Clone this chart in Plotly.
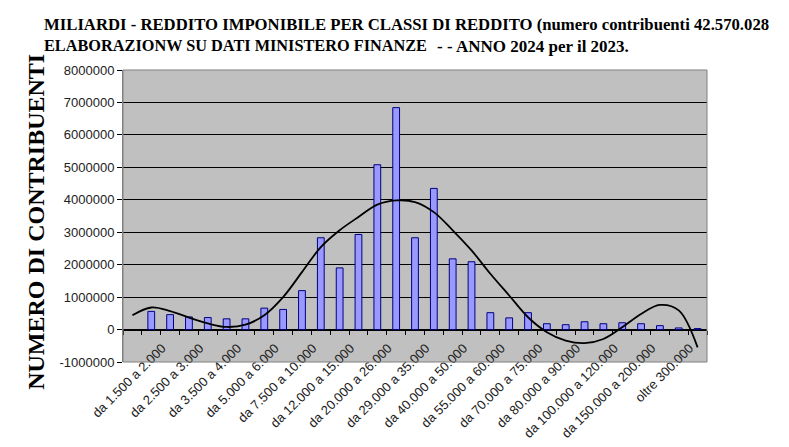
import plotly.graph_objects as go

# ---- data ----
categories = [
    " ", "da 1.000 a 1.500", "da 1.500 a 2.000", "da 2.000 a 2.500", "da 2.500 a 3.000",
    "da 3.000 a 3.500", "da 3.500 a 4.000", "da 4.000 a 5.000", "da 5.000 a 6.000",
    "da 6.000 a 7.500", "da 7.500 a 10.000", "da 10.000 a 12.000", "da 12.000 a 15.000",
    "da 15.000 a 20.000", "da 20.000 a 26.000", "da 26.000 a 29.000", "da 29.000 a 35.000",
    "da 35.000 a 40.000", "da 40.000 a 50.000", "da 50.000 a 55.000", "da 55.000 a 60.000",
    "da 60.000 a 70.000", "da 70.000 a 75.000", "da 75.000 a 80.000", "da 80.000 a 90.000",
    "da 90.000 a 100.000", "da 100.000 a 120.000", "da 120.000 a 150.000",
    "da 150.000 a 200.000", "da 200.000 a 300.000", "oltre 300.000",
]
contribuenti = [
    None, 560000, 460000, 390000, 370000, 330000, 330000, 660000, 620000,
    1200000, 2830000, 1900000, 2930000, 5080000, 6840000, 2830000, 4350000,
    2180000, 2090000, 520000, 360000, 520000, 180000, 150000, 240000,
    180000, 210000, 180000, 120000, 50000, 30000,
]
tendenza = [
    440000, 680000, 570000, 370000, 190000, 80000, 150000, 440000, 1000000,
    1770000, 2540000, 3060000, 3470000, 3850000, 3980000, 3930000, 3620000,
    3060000, 2440000, 1720000, 1050000, 380000, -80000, -340000, -420000,
    -290000, 70000, 480000, 760000, 590000, -550000,
]
y_ticks = [-1000000, 0, 1000000, 2000000, 3000000, 4000000, 5000000, 6000000, 7000000, 8000000]
title_line1 = "MILIARDI - REDDITO IMPONIBILE PER CLASSI DI REDDITO (numero contribuenti 42.570.028"
title_line2a = "ELABORAZIONW SU DATI MINISTERO FINANZE"
title_line2b = "- - ANNO 2024 per il 2023."
y_title = "NUMERO DI CONTRIBUENTI"

tick_text = [c if i % 2 == 0 else "" for i, c in enumerate(categories)]

fig = go.Figure()
fig.add_trace(go.Bar(
    x=categories, y=contribuenti,
    marker=dict(color="#9999FF", line=dict(color="#000080", width=1)),
    showlegend=False,
))
fig.add_trace(go.Scatter(
    x=categories, y=tendenza, mode="lines",
    line=dict(color="black", width=1.8, shape="spline", smoothing=1.0),
    showlegend=False,
))

serif = "Liberation Serif, Times New Roman, serif"
ymin, ymax = y_ticks[0], y_ticks[-1]
fig.update_layout(
    width=789, height=447,
    margin=dict(l=115, r=90, t=62, b=93, autoexpand=False),
    paper_bgcolor="white",
    plot_bgcolor="#C0C0C0",
    bargap=0.64,
    font=dict(family="Liberation Sans, Arial", size=13, color="#222"),
    xaxis=dict(
        type="category", automargin=False,
        categoryorder="array", categoryarray=categories,
        range=[-0.5, len(categories) - 0.5],
        tickmode="array", tickvals=categories, ticktext=tick_text,
        tickangle=-45, tickson="boundaries",
        ticks="outside", ticklen=4, tickcolor="black",
        ticklabelshift=-8, ticklabelstandoff=5,
        showline=True, linecolor="black", linewidth=1,
        showgrid=False, zeroline=False,
        anchor="free", position=(0 - ymin) / (ymax - ymin),
        tickfont=dict(size=13, color="#222"),
    ),
    yaxis=dict(
        automargin=False,
        range=[ymin, ymax],
        tickmode="array", tickvals=y_ticks, ticktext=[str(v) for v in y_ticks],
        ticks="outside", ticklen=5, tickcolor="black",
        showgrid=True, gridcolor="black", gridwidth=1,
        zeroline=False,
        showline=True, linecolor="#808080", linewidth=1,
        tickfont=dict(size=13, color="#222"),
    ),
    shapes=[dict(type="rect", xref="paper", yref="paper", x0=0, x1=1, y0=0, y1=1,
                 line=dict(color="#808080", width=1), fillcolor="rgba(0,0,0,0)", layer="above")],
    annotations=[
        dict(text="<b>" + title_line1 + "</b>", xref="paper", yref="paper",
             x=-0.139, y=1.156, xanchor="left", yanchor="middle", showarrow=False,
             font=dict(family=serif, size=16.7, color="black")),
        dict(text="<b>" + title_line2a + "</b>", xref="paper", yref="paper",
             x=-0.139, y=1.084, xanchor="left", yanchor="middle", showarrow=False,
             font=dict(family=serif, size=16.3, color="black")),
        dict(text="<b>" + title_line2b + "</b>", xref="paper", yref="paper",
             x=0.535, y=1.082, xanchor="left", yanchor="middle", showarrow=False,
             font=dict(family=serif, size=17, color="black")),
        dict(text="<b>" + y_title + "</b>", xref="paper", yref="paper",
             x=-0.149, y=0.48, xanchor="center", yanchor="middle", textangle=-90,
             showarrow=False,
             font=dict(family=serif, size=24, color="black")),
    ],
)

fig.write_html("out.html")
